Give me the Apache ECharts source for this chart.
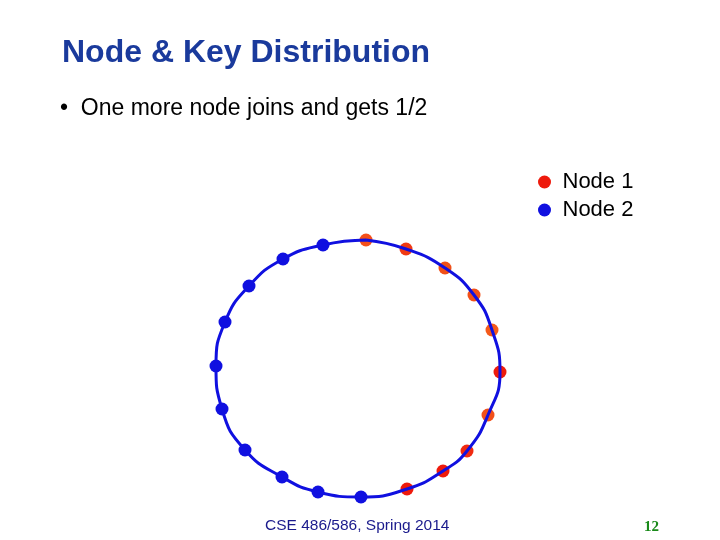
<!DOCTYPE html>
<html><head><meta charset="utf-8">
<script src="https://cdn.jsdelivr.net/npm/echarts@6/dist/echarts.min.js"></script>
<style>html,body{margin:0;padding:0;background:#fff}#c{width:720px;height:540px}</style>
</head><body><div id="c"></div>
<script>
const node1X=[366,406,445,474,492,500,488,467,443,407];
const node1Y=[240,249,268,295,330,372,415,451,471,489];
const node2X=[361,318,282,245,222,216,225,249,283,323];
const node2Y=[497,492,477,450,409,366,322,286,259,245];
const node1Colors=['#f4501a','#f03a14','#f05018','#f25018','#f45a1a','#ee1c0c','#f2501a','#f02a10','#ee1a0c','#ee1a0c'];
const ring=[];
for(let i=0;i<10;i++) ring.push([node1X[i],node1Y[i]]);
for(let i=0;i<10;i++) ring.push([node2X[i],node2Y[i]]);
ring.push([node1X[0],node1Y[0]]);
const chart=echarts.init(document.getElementById('c'));
chart.setOption({
 animation:false,
 grid:{left:0,top:0,width:720,height:540},
 xAxis:{type:'value',min:0,max:720,show:false},
 yAxis:{type:'value',min:0,max:540,inverse:true,show:false},
 legend:{left:533,top:166,orient:'vertical',itemGap:6,itemWidth:14,itemHeight:13,icon:'circle',
   textStyle:{fontFamily:'Liberation Sans',fontSize:22,color:'#000',padding:[0,0,0,6]},
   data:[{name:'Node 1',itemStyle:{color:'#ee1a0c'}},{name:'Node 2'}]},
 series:[
  {type:'line',data:ring,smooth:true,symbol:'none',lineStyle:{color:'#1010e0',width:3},silent:true},
  {name:'Node 1',type:'scatter',symbolSize:13,data:node1X.map((x,i)=>({value:[x,node1Y[i]],itemStyle:{color:node1Colors[i],opacity:1}})),itemStyle:{color:'#ee1a0c',opacity:1}},
  {name:'Node 2',type:'scatter',symbolSize:13,data:node2X.map((x,i)=>[x,node2Y[i]]),itemStyle:{color:'#1010e0',opacity:1}}
 ],
 graphic:[
  {type:'text',left:62,top:37,style:{text:'Node & Key Distribution',font:'bold 32px "Liberation Sans"',fill:'#1a3a9c'}},
  {type:'text',left:60,top:97,style:{text:'•  One more node joins and gets 1/2',font:'23px "Liberation Sans"',fill:'#000'}},
  {type:'text',left:265,top:518,style:{text:'CSE 486/586, Spring 2014',font:'15.5px "Liberation Sans"',fill:'#1a1a8c'}},
  {type:'text',left:644,top:520,style:{text:'12',font:'bold 15px "Liberation Serif"',fill:'#1a8a1a'}}
 ]
});
</script></body></html>
